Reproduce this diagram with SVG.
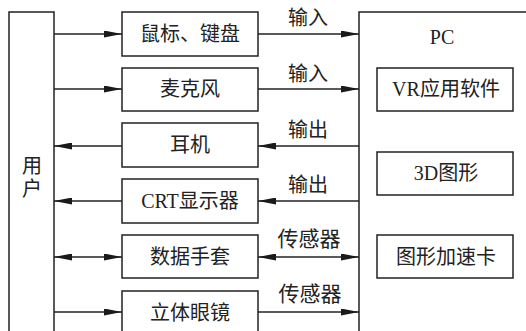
<svg xmlns="http://www.w3.org/2000/svg" width="526" height="331" viewBox="0 0 526 331">
<defs>
<marker id="ah" viewBox="0 0 18 7" refX="18" refY="3.5" markerWidth="18" markerHeight="7" markerUnits="userSpaceOnUse" orient="auto-start-reverse">
<path d="M0,0 L18,3.5 L0,7 Z" fill="#1a1a1a"/>
</marker>
</defs>
<style>
.box{fill:#fff;stroke:#222;stroke-width:1.5}
.ln{stroke:#222;stroke-width:1.4;fill:none}
.t{font-family:"Liberation Serif","Noto Sans CJK SC",serif;font-size:20px;fill:#222;text-anchor:middle;dominant-baseline:central}
.lb{font-family:"Liberation Serif","Noto Sans CJK SC",serif;font-size:20px;fill:#222;text-anchor:middle;dominant-baseline:central}
.big{font-size:21px}
</style>
<rect width="526" height="331" fill="#fff"/>
<g id="user">
<rect class="box" x="9" y="12" width="45" height="330"/>
<text class="t" x="32" y="166">用</text>
<text class="t" x="32" y="189">户</text>
</g>
<g id="pc">
<rect class="box" x="359" y="12" width="180" height="330"/>
<text class="t" x="442" y="37">PC</text>
</g>
<g id="vr">
<rect class="box" x="377" y="68" width="136" height="43"/>
<text class="t" x="446" y="89">VR应用软件</text>
</g>
<g id="g3d">
<rect class="box" x="377" y="152" width="136" height="43"/>
<text class="t" x="446" y="173">3D图形</text>
</g>
<g id="gpu">
<rect class="box" x="377" y="235" width="136" height="43"/>
<text class="t" x="446" y="257">图形加速卡</text>
</g>
<g id="mouse">
<rect class="box" x="122" y="12" width="136" height="44"/>
<text class="t" x="190" y="34">鼠标、键盘</text>
</g>
<g id="mic">
<rect class="box" x="122" y="68" width="136" height="43"/>
<text class="t" x="190" y="89">麦克风</text>
</g>
<g id="ear">
<rect class="box" x="122" y="123" width="136" height="44"/>
<text class="t" x="190" y="145">耳机</text>
</g>
<g id="crt">
<rect class="box" x="122" y="179" width="136" height="44"/>
<text class="t" x="190" y="201">CRT显示器</text>
</g>
<g id="glove">
<rect class="box" x="122" y="235" width="136" height="43"/>
<text class="t" x="190" y="257">数据手套</text>
</g>
<g id="glasses">
<rect class="box" x="122" y="291" width="136" height="50"/>
<text class="t" x="190" y="313">立体眼镜</text>
</g>
<g id="connectors">
<line class="ln" x1="54" y1="34" x2="122" y2="34" marker-end="url(#ah)"/>
<line class="ln" x1="258" y1="34" x2="359" y2="34" marker-end="url(#ah)"/>
<line class="ln" x1="54" y1="89" x2="122" y2="89" marker-end="url(#ah)"/>
<line class="ln" x1="258" y1="89" x2="359" y2="89" marker-end="url(#ah)"/>
<line class="ln" x1="122" y1="146" x2="54" y2="146" marker-end="url(#ah)"/>
<line class="ln" x1="359" y1="146" x2="258" y2="146" marker-end="url(#ah)"/>
<line class="ln" x1="122" y1="201" x2="54" y2="201" marker-end="url(#ah)"/>
<line class="ln" x1="359" y1="201" x2="258" y2="201" marker-end="url(#ah)"/>
<line class="ln" x1="54" y1="257" x2="122" y2="257" marker-start="url(#ah)" marker-end="url(#ah)"/>
<line class="ln" x1="258" y1="257" x2="359" y2="257" marker-start="url(#ah)" marker-end="url(#ah)"/>
<line class="ln" x1="54" y1="312" x2="122" y2="312" marker-end="url(#ah)"/>
<line class="ln" x1="258" y1="312" x2="359" y2="312" marker-end="url(#ah)"/>
<text class="lb" x="308" y="18">输入</text>
<text class="lb" x="308" y="74">输入</text>
<text class="lb" x="308" y="130">输出</text>
<text class="lb" x="308" y="185">输出</text>
<text class="lb big" x="309" y="239">传感器</text>
<text class="lb big" x="310" y="294">传感器</text>
</g>
</svg>
